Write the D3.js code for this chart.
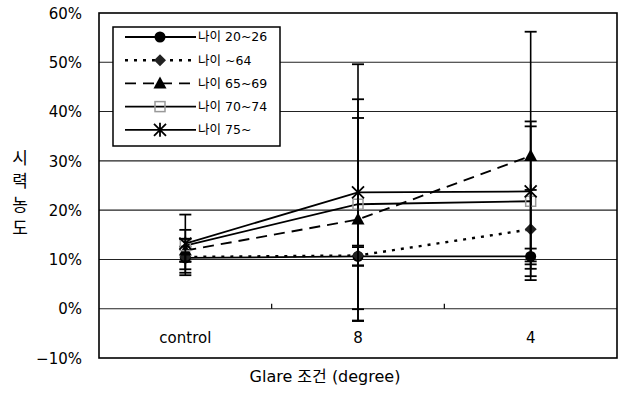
<!DOCTYPE html>
<html><head><meta charset="utf-8">
<script src="https://cdn.jsdelivr.net/npm/d3@7"></script>
<style>
body{margin:0;background:#fff;}
text{font-family:"DejaVu Sans","Noto Sans CJK KR",sans-serif;fill:#000;}
</style></head>
<body><svg id="c" width="621" height="406"></svg>
<script>
const categories = ["control", "8", "4"];
const seriesNames = ["나이 20~26", "나이 ~64", "나이 65~69", "나이 70~74", "나이 75~"];
const age20_26 = [10.3, 10.6, 10.6];
const age_64   = [10.5, 10.8, 16.1];
const age65_69 = [11.8, 18.1, 31.0];
const age70_74 = [12.8, 21.2, 21.8];
const age75    = [13.2, 23.6, 23.8];
const err20_26 = [2.3, 1.9, 1.6];
const err_64   = [3.7, 2.0, 8.0];
const err65_69 = [2.3, 20.6, 25.2];
const err70_74 = [3.2, 21.3, 15.2];
const err75    = [5.9, 26.0, 14.2];
const yTicks = [-10, 0, 10, 20, 30, 40, 50, 60];
const yTitle = ["시", "력", "농", "도"];
const xTitle = "Glare 조건 (degree)";

const seriesValues = [age20_26, age_64, age65_69, age70_74, age75];
const seriesErrors = [err20_26, err_64, err65_69, err70_74, err75];
const styles = [
  {dash: null, width: 1.8, marker: "circle"},
  {dash: "3,6", width: 2.4, marker: "diamond"},
  {dash: "11,7", width: 1.9, marker: "triangle"},
  {dash: null, width: 1.8, marker: "square"},
  {dash: null, width: 1.8, marker: "asterisk"}
];

const L = 99, R = 617, T = 13, B = 358;
const svg = d3.select("#c");
const y = d3.scaleLinear().domain([-10, 60]).range([B, T]);
const xb = d3.scaleBand().domain(categories).range([L, R]);
const x = c => xb(c) + xb.bandwidth() / 2;

// gridlines
svg.append("g").selectAll("line").data(yTicks.filter(t => t > -10 && t < 60)).join("line")
  .attr("x1", L).attr("x2", R).attr("y1", d => y(d)).attr("y2", d => y(d))
  .attr("stroke", "#222").attr("stroke-width", 1.1);

// y axis labels
const yAxis = d3.axisLeft(y).tickValues(yTicks).tickSize(0).tickPadding(17)
  .tickFormat(d => (d < 0 ? "\u2212" + Math.abs(d) : d) + "%");
const ga = svg.append("g").attr("transform", `translate(${L},0)`).call(yAxis);
ga.select(".domain").remove();
ga.selectAll("text").style("font-size", "15px").attr("dy", "0.35em");

// category axis at 0% with boundary ticks
svg.append("g").selectAll("line").data(categories.slice(1)).join("line")
  .attr("x1", d => xb(d)).attr("x2", d => xb(d)).attr("y1", y(0)).attr("y2", y(0) - 5)
  .attr("stroke", "#000").attr("stroke-width", 1.2);
svg.append("g").selectAll("text").data(categories).join("text")
  .attr("x", d => x(d)).attr("y", 338).attr("dy", "0.35em").attr("text-anchor", "middle")
  .style("font-size", "15px").text(d => d);

// frame
svg.append("rect").attr("x", L).attr("y", T).attr("width", R - L).attr("height", B - T)
  .attr("fill", "none").attr("stroke", "#000").attr("stroke-width", 1.6);

function drawMarker(g, type, cx, cy) {
  if (type === "circle") g.append("circle").attr("cx", cx).attr("cy", cy).attr("r", 5.5).attr("fill", "#000");
  else if (type === "diamond") g.append("path").attr("d", `M${cx},${cy-6}L${cx+6},${cy}L${cx},${cy+6}L${cx-6},${cy}Z`).attr("fill", "#222");
  else if (type === "triangle") g.append("path").attr("d", `M${cx},${cy-7}L${cx+6.5},${cy+5}L${cx-6.5},${cy+5}Z`).attr("fill", "#000");
  else if (type === "square") g.append("rect").attr("x", cx-5).attr("y", cy-5).attr("width", 10).attr("height", 10)
      .attr("fill", "none").attr("stroke", "#999").attr("stroke-width", 1.5);
  else if (type === "asterisk") {
    g.append("path").attr("d", `M${cx-6},${cy-6}L${cx+6},${cy+6}M${cx+6},${cy-6}L${cx-6},${cy+6}M${cx},${cy-7}L${cx},${cy+7}`)
      .attr("stroke", "#000").attr("stroke-width", 1.8);
  }
}

const line = d3.line().x((d, i) => x(categories[i])).y(d => y(d));
seriesValues.forEach((vals, si) => {
  const g = svg.append("g");
  const st = styles[si];
  vals.forEach((v, i) => {
    const e = seriesErrors[si][i], cx = x(categories[i]);
    g.append("line").attr("x1", cx).attr("x2", cx).attr("y1", y(v + e)).attr("y2", y(v - e))
      .attr("stroke", "#000").attr("stroke-width", 1.6);
    [v + e, v - e].forEach(t => g.append("line").attr("x1", cx - 6).attr("x2", cx + 6)
      .attr("y1", y(t)).attr("y2", y(t)).attr("stroke", "#000").attr("stroke-width", 1.8));
  });
  g.append("path").attr("d", line(vals)).attr("fill", "none").attr("stroke", "#000")
    .attr("stroke-width", st.width).attr("stroke-dasharray", st.dash);
  vals.forEach((v, i) => drawMarker(g, st.marker, x(categories[i]), y(v)));
});

// legend
const lg = svg.append("g");
lg.append("rect").attr("x", 113).attr("y", 27).attr("width", 167).attr("height", 119)
  .attr("fill", "#fff").attr("stroke", "#000").attr("stroke-width", 1.5);
seriesNames.forEach((n, i) => {
  const cy = 37 + i * 23.2, st = styles[i];
  lg.append("line").attr("x1", 125).attr("x2", 196).attr("y1", cy).attr("y2", cy)
    .attr("stroke", "#000").attr("stroke-width", st.width).attr("stroke-dasharray", st.dash);
  drawMarker(lg, st.marker, 160, cy);
  lg.append("text").attr("x", 198).attr("y", cy).attr("dy", "0.35em").style("font-size", "12.5px").text(n);
});

// axis titles
svg.append("g").selectAll("text").data(yTitle).join("text")
  .attr("x", 20).attr("y", (d, i) => 158 + i * 23.5).attr("dy", "0.35em").attr("text-anchor", "middle")
  .style("font-size", "17px").text(d => d);
svg.append("text").attr("x", 325).attr("y", 376).attr("dy", "0.35em").attr("text-anchor", "middle")
  .style("font-size", "16px").text(xTitle);
</script></body></html>
